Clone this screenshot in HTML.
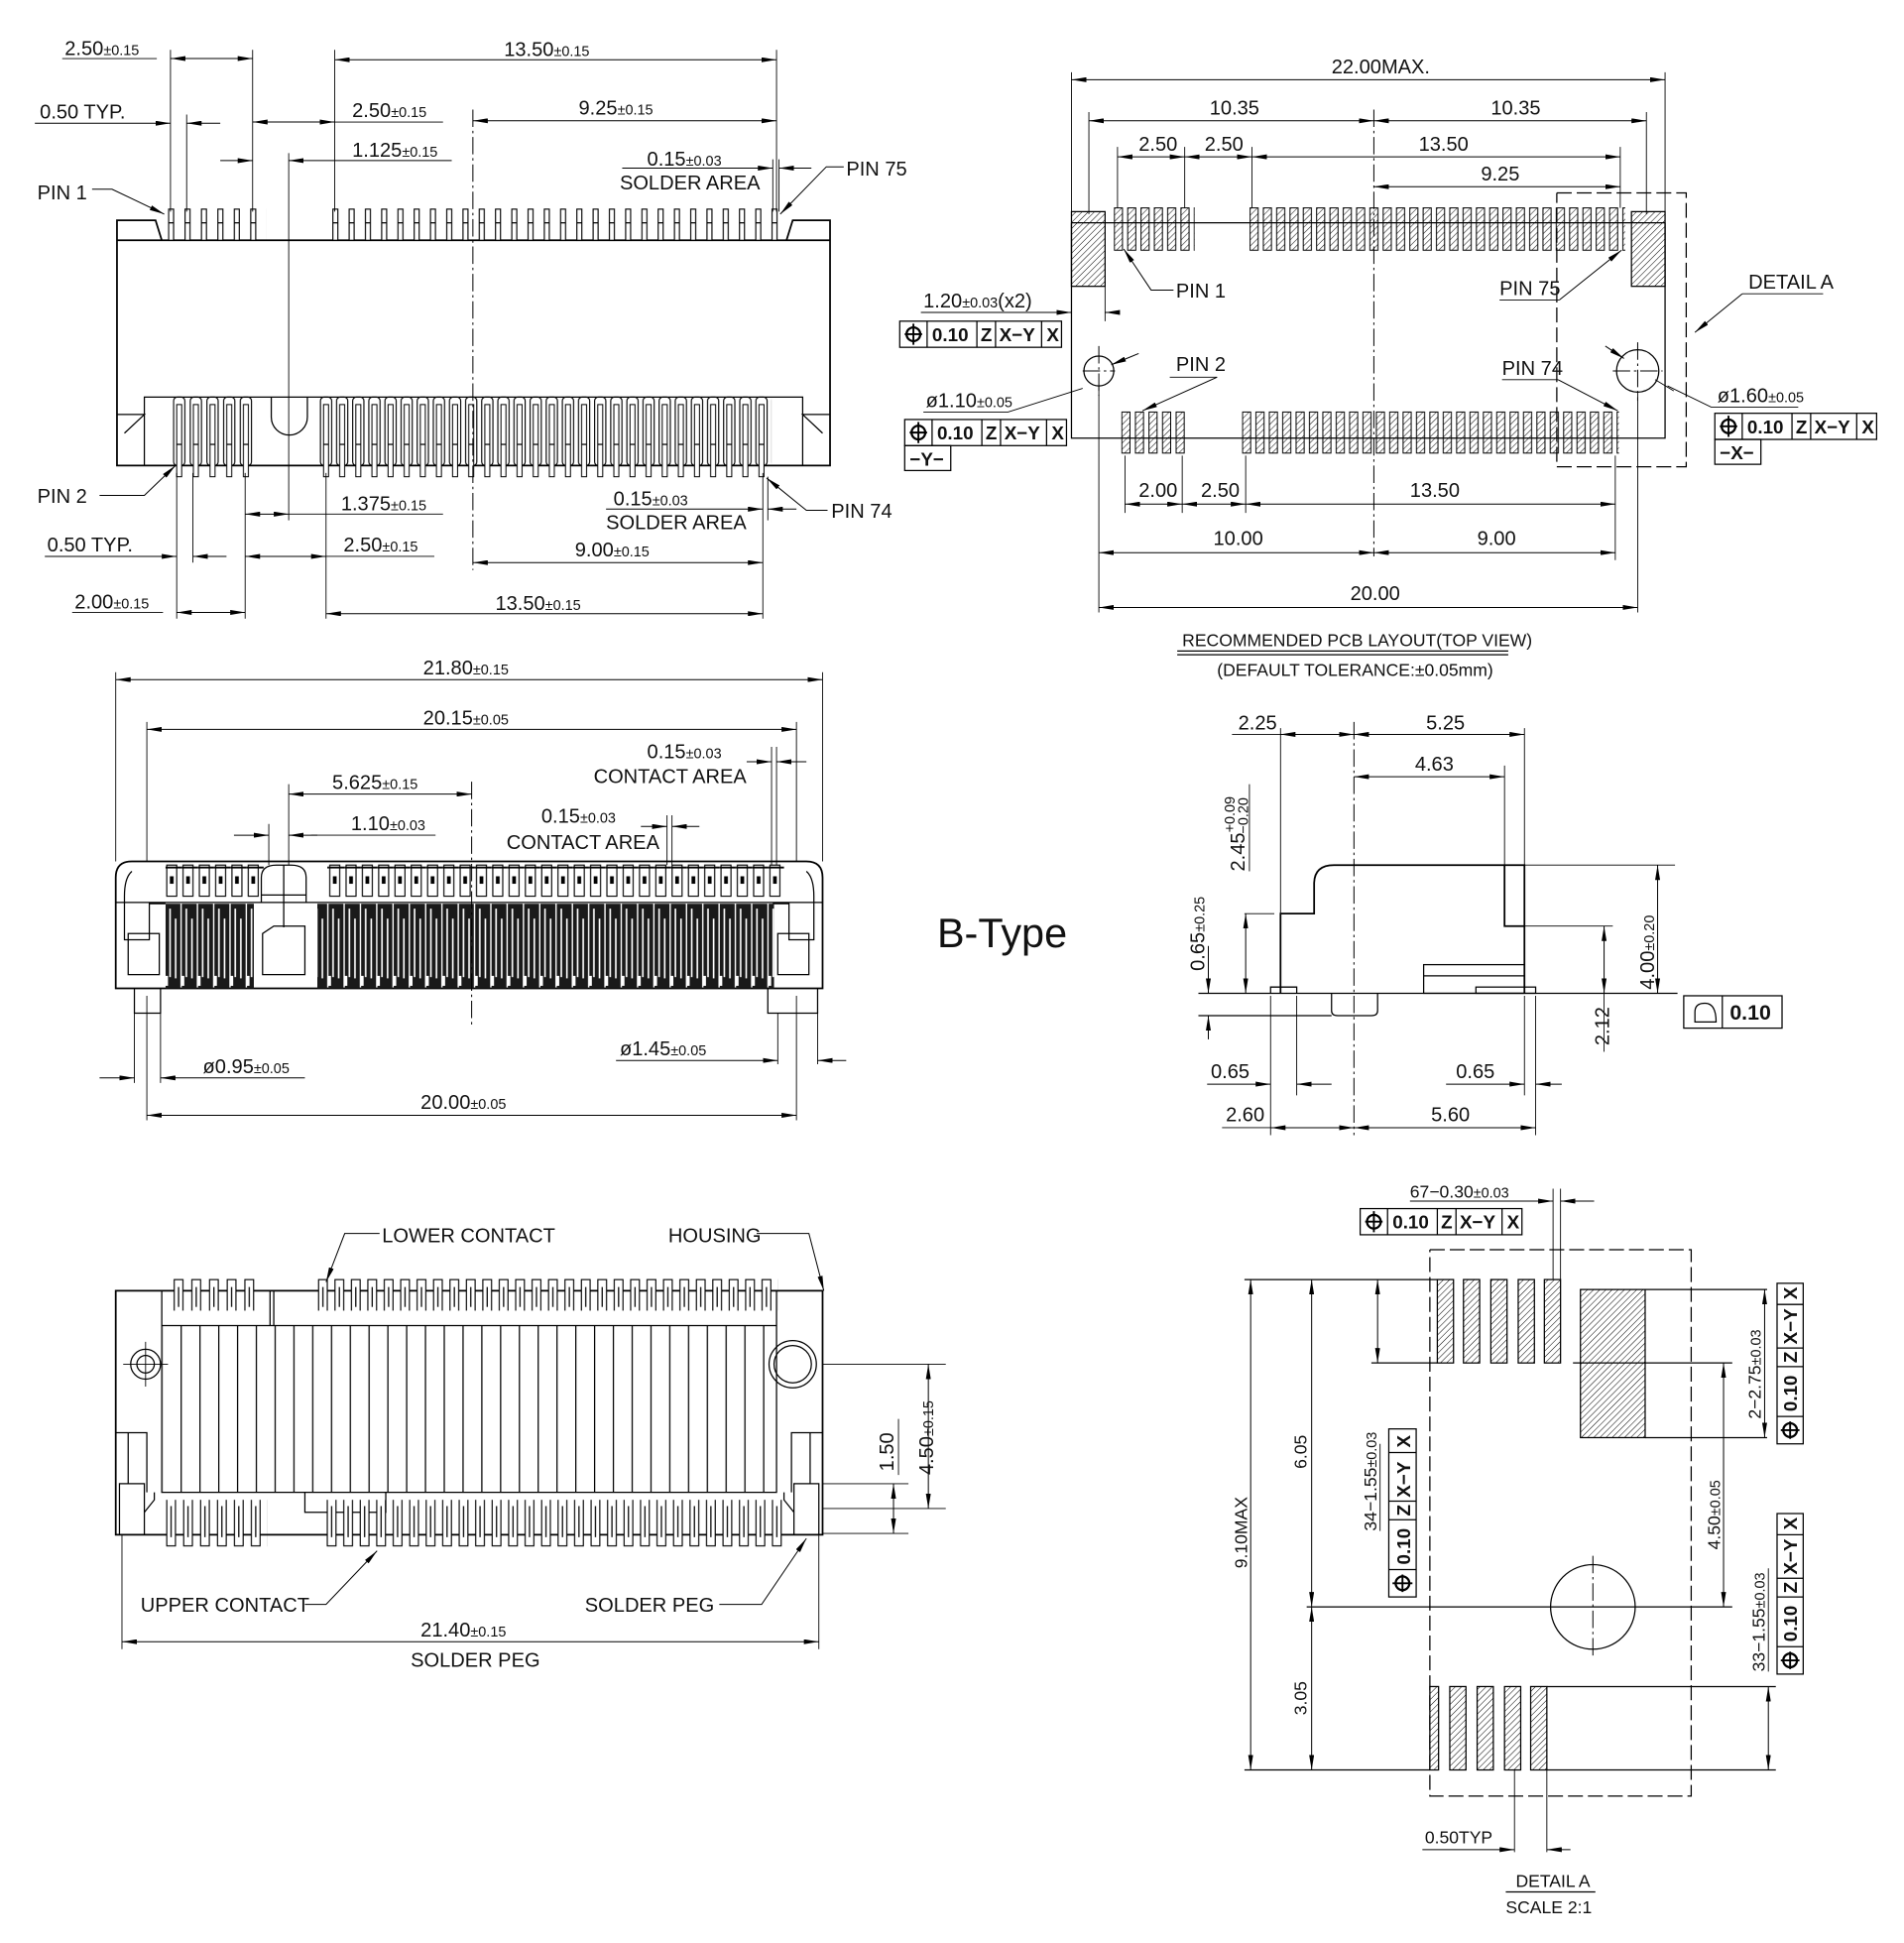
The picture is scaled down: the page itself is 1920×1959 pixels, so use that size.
<!DOCTYPE html>
<html><head><meta charset="utf-8"><style>
html,body{margin:0;padding:0;background:#fff}
svg{display:block}
.l{stroke:#000;stroke-width:1;fill:none}
.b{stroke:#000;stroke-width:1.4;fill:none}
.c{stroke:#000;stroke-width:0.8;fill:none;stroke-dasharray:14 3 2 3}
.dd{stroke:#000;stroke-width:1;fill:none;stroke-dasharray:12 4}
.dm{stroke:#000;stroke-width:0.8;fill:none;marker-start:url(#a);marker-end:url(#a)}
.ar{stroke:#000;stroke-width:0.8;fill:none;marker-end:url(#a)}
.e{stroke:#000;stroke-width:0.7;fill:none}
text{font-family:"Liberation Sans Narrow","Liberation Sans",sans-serif;font-size:16px;fill:#111}
.s{font-size:11.5px}
.fb{font-weight:bold;font-size:15px}
</style></head><body>
<svg width="1920" height="1959" viewBox="0 0 1530 1561" xmlns="http://www.w3.org/2000/svg">
<defs>
<marker id="a" viewBox="0 0 12 4" refX="12" refY="2" markerWidth="12" markerHeight="4" orient="auto-start-reverse" markerUnits="userSpaceOnUse"><path d="M0,0L12,2L0,4z" fill="#000"/></marker>
<pattern id="h" width="3.5" height="3.5" patternUnits="userSpaceOnUse" patternTransform="rotate(45)"><line x1="0" y1="0" x2="0" y2="3.5" stroke="#000" stroke-width="0.8"/></pattern>
<!-- view1 top pins -->
<pattern id="p1a" x="135" y="0" width="13.2" height="2000" patternUnits="userSpaceOnUse"><rect x="0.5" y="168" width="4" height="25" fill="#fff" stroke="#000" stroke-width="0.9"/><line x1="0.5" y1="179" x2="4.5" y2="179" stroke="#000"/></pattern>
<pattern id="p1b" x="267" y="0" width="13.07" height="2000" patternUnits="userSpaceOnUse"><rect x="0.5" y="168" width="4" height="25" fill="#fff" stroke="#000" stroke-width="0.9"/><line x1="0.5" y1="179" x2="4.5" y2="179" stroke="#000"/></pattern>
<pattern id="s1a" x="139" y="0" width="13.4" height="2000" patternUnits="userSpaceOnUse"><rect x="0.5" y="319" width="9" height="55" rx="3" fill="none" stroke="#000" stroke-width="0.9"/><rect x="3" y="325" width="4" height="58" fill="#fff" stroke="#000" stroke-width="0.8"/><line x1="3" y1="357" x2="7" y2="357" stroke="#000"/></pattern>
<pattern id="s1b" x="257" y="0" width="12.96" height="2000" patternUnits="userSpaceOnUse"><rect x="0.5" y="319" width="9" height="55" rx="3" fill="none" stroke="#000" stroke-width="0.9"/><rect x="3" y="325" width="4" height="58" fill="#fff" stroke="#000" stroke-width="0.8"/><line x1="3" y1="357" x2="7" y2="357" stroke="#000"/></pattern>
<!-- pcb pads -->
<pattern id="pa" x="895" y="0" width="10.7" height="2000" patternUnits="userSpaceOnUse"><rect x="0.5" y="167" width="6.5" height="34" fill="url(#h)" stroke="#000" stroke-width="0.8"/></pattern>
<pattern id="pb" x="1004" y="0" width="10.7" height="2000" patternUnits="userSpaceOnUse"><rect x="0.5" y="167" width="6.5" height="34" fill="url(#h)" stroke="#000" stroke-width="0.8"/></pattern>
<pattern id="pc" x="901" y="0" width="10.9" height="2000" patternUnits="userSpaceOnUse"><rect x="0.5" y="331" width="6.5" height="33" fill="url(#h)" stroke="#000" stroke-width="0.8"/></pattern>
<pattern id="pd" x="998" y="0" width="10.75" height="2000" patternUnits="userSpaceOnUse"><rect x="0.5" y="331" width="6.5" height="33" fill="url(#h)" stroke="#000" stroke-width="0.8"/></pattern>
<!-- front view -->
<pattern id="ft" x="133" y="0" width="13.1" height="2000" patternUnits="userSpaceOnUse"><rect x="1" y="695" width="8" height="25" fill="#fff" stroke="#000" stroke-width="0.9"/><rect x="3.5" y="704" width="3" height="6" fill="#000"/><line x1="0" y1="697" x2="13" y2="697" stroke="#000" stroke-width="1.5"/></pattern>
<pattern id="fd" x="133" y="0" width="13.1" height="2000" patternUnits="userSpaceOnUse"><rect x="0" y="726" width="12" height="68" fill="#1a1a1a"/><rect x="3" y="730" width="1.3" height="55" fill="#fff"/><rect x="7.5" y="738" width="1.3" height="48" fill="#fff"/><rect x="0" y="784" width="2" height="8" fill="#fff"/></pattern>
<!-- bottom view -->
<pattern id="bt" x="139" y="0" width="14.2" height="2000" patternUnits="userSpaceOnUse"><path d="M1,1053V1028h7v25" fill="#fff" stroke="#000" stroke-width="0.9"/><line x1="4.5" y1="1034" x2="4.5" y2="1050" stroke="#000"/></pattern>
<pattern id="bt2" x="255" y="0" width="13.2" height="2000" patternUnits="userSpaceOnUse"><path d="M1,1053V1028h7v25" fill="#fff" stroke="#000" stroke-width="0.9"/><line x1="4.5" y1="1034" x2="4.5" y2="1050" stroke="#000"/></pattern>
<pattern id="bb" x="133" y="0" width="13.6" height="2000" patternUnits="userSpaceOnUse"><path d="M1,1205V1242h7V1205" fill="#fff" stroke="#000" stroke-width="0.9"/><line x1="4.5" y1="1210" x2="4.5" y2="1235" stroke="#000"/></pattern>
<pattern id="bb2" x="262" y="0" width="13.25" height="2000" patternUnits="userSpaceOnUse"><path d="M1,1205V1242h7V1205" fill="#fff" stroke="#000" stroke-width="0.9"/><line x1="4.5" y1="1210" x2="4.5" y2="1235" stroke="#000"/></pattern>
<pattern id="bl" x="130" y="0" width="15.1" height="2000" patternUnits="userSpaceOnUse"><line x1="0.5" y1="1065" x2="0.5" y2="1199" stroke="#000" stroke-width="1"/></pattern>
</defs>

<!-- ================= VIEW 1 (top-left) ================= -->
<path class="b" d="M94,193V374H667V193H94M94,193V177H125L130,193M667,193V177H637L632,193"/>
<rect class="l" x="116" y="319" width="529" height="55"/>
<path class="l" d="M94,333H116L100,348M667,333H645L661,348"/>
<path class="l" d="M218,319V335A14.5,14.5 0 0 0 247,335V319"/>
<rect x="135" y="165" width="79" height="30" fill="url(#p1a)"/>
<rect x="265" y="165" width="366" height="30" fill="url(#p1b)"/>
<rect x="139" y="316" width="67" height="70" fill="url(#s1a)"/>
<rect x="257" y="316" width="363" height="70" fill="url(#s1b)"/>
<line class="c" x1="380" y1="88" x2="380" y2="458"/>
<line class="e" x1="232" y1="123" x2="232" y2="418"/>
<!-- ext lines -->
<path class="e" d="M137,40V170M203,40V170M150,92V170M269,40V170M624,40V170M626,128V170M621,128V170M142,380V497M155,380V452M197,380V497M262,380V497M613,380V497M617,383V418"/>
<text x="52" y="44">2.50<tspan class="s">±0.15</tspan></text><line class="e" x1="50" y1="47" x2="126" y2="47"/>
<line class="dm" x1="137" y1="47" x2="203" y2="47"/>
<text x="405" y="45">13.50<tspan class="s">±0.15</tspan></text>
<line class="dm" x1="269" y1="48" x2="624" y2="48"/>
<text x="32" y="95">0.50  TYP.</text>
<line class="ar" x1="28" y1="99" x2="137" y2="99"/><line class="ar" x1="177" y1="99" x2="150" y2="99"/>
<text x="283" y="94">2.50<tspan class="s">±0.15</tspan></text><line class="e" x1="269" y1="98" x2="356" y2="98"/>
<line class="dm" x1="203" y1="98" x2="269" y2="98"/>
<text x="465" y="92">9.25<tspan class="s">±0.15</tspan></text>
<line class="dm" x1="380" y1="97" x2="624" y2="97"/>
<text x="283" y="126">1.125<tspan class="s">±0.15</tspan></text>
<line class="ar" x1="177" y1="129" x2="203" y2="129"/><line class="ar" x1="363" y1="129" x2="232" y2="129"/>
<text x="520" y="133">0.15<tspan class="s">±0.03</tspan></text><text x="498" y="152">SOLDER  AREA</text>
<line class="ar" x1="500" y1="135" x2="621" y2="135"/><line class="ar" x1="652" y1="135" x2="626" y2="135"/>
<text x="680" y="141">PIN  75</text><path class="ar" d="M678,134H664L627,172"/>
<text x="30" y="160">PIN  1</text><path class="ar" d="M74,152H90L132,172"/>
<text x="30" y="404">PIN  2</text><path class="ar" d="M80,398H116L141,374"/>
<text x="668" y="416">PIN  74</text><path class="ar" d="M665,410H648L616,384"/>
<text x="274" y="410">1.375<tspan class="s">±0.15</tspan></text><line class="e" x1="232" y1="413" x2="356" y2="413"/>
<line class="dm" x1="197" y1="413" x2="232" y2="413"/>
<text x="493" y="406">0.15<tspan class="s">±0.03</tspan></text><text x="487" y="425">SOLDER  AREA</text>
<line class="ar" x1="487" y1="409" x2="613" y2="409"/><line class="ar" x1="640" y1="409" x2="617" y2="409"/>
<text x="38" y="443">0.50  TYP.</text>
<line class="ar" x1="36" y1="447" x2="142" y2="447"/><line class="ar" x1="182" y1="447" x2="155" y2="447"/>
<text x="276" y="443">2.50<tspan class="s">±0.15</tspan></text><line class="e" x1="262" y1="447" x2="349" y2="447"/>
<line class="dm" x1="197" y1="447" x2="262" y2="447"/>
<text x="462" y="447">9.00<tspan class="s">±0.15</tspan></text>
<line class="dm" x1="380" y1="452" x2="613" y2="452"/>
<text x="60" y="489">2.00<tspan class="s">±0.15</tspan></text><line class="e" x1="58" y1="492" x2="131" y2="492"/>
<line class="dm" x1="142" y1="492" x2="197" y2="492"/>
<text x="398" y="490">13.50<tspan class="s">±0.15</tspan></text>
<line class="dm" x1="262" y1="493" x2="613" y2="493"/>

<!-- ================= VIEW 2 (PCB layout) ================= -->
<path class="l" d="M861,179H1338M861,179V352H1338V179"/>
<rect x="861" y="170" width="27" height="60" fill="url(#h)" stroke="#000"/>
<rect x="1311" y="170" width="27" height="60" fill="url(#h)" stroke="#000"/>
<rect x="895" y="165" width="65" height="38" fill="url(#pa)"/>
<rect x="1004" y="165" width="302" height="38" fill="url(#pb)"/>
<rect x="901" y="329" width="54" height="37" fill="url(#pc)"/>
<rect x="998" y="329" width="303" height="37" fill="url(#pd)"/>
<path class="dd" d="M1251,155H1355V375H1251V155"/>
<circle class="l" cx="883" cy="298" r="12"/><circle class="l" cx="1316" cy="298" r="17"/>
<path class="c" d="M883,278V318M870,298H896M1316,275V322M1296,298H1336"/>
<line class="c" x1="1104" y1="88" x2="1104" y2="447"/>
<path class="e" d="M861,58V175M1338,58V175M875,90V172M1323,90V172M898,118V167M952,118V167M1006,118V167M1302,118V167M904,366V412M950,366V412M1001,366V412M1298,366V450M883,310V492M1316,316V492"/>
<text x="1070" y="59">22.00MAX.</text><line class="dm" x1="861" y1="64" x2="1338" y2="64"/>
<text x="972" y="92">10.35</text><text x="1198" y="92">10.35</text>
<line class="dm" x1="875" y1="97" x2="1104" y2="97"/><line class="dm" x1="1104" y1="97" x2="1323" y2="97"/>
<text x="915" y="121">2.50</text><text x="968" y="121">2.50</text><text x="1140" y="121">13.50</text>
<line class="dm" x1="898" y1="126" x2="952" y2="126"/><line class="dm" x1="952" y1="126" x2="1006" y2="126"/><line class="dm" x1="1006" y1="126" x2="1302" y2="126"/>
<text x="1190" y="145">9.25</text><line class="dm" x1="1104" y1="150" x2="1302" y2="150"/>
<text x="915" y="399">2.00</text><text x="965" y="399">2.50</text><text x="1133" y="399">13.50</text>
<line class="dm" x1="904" y1="405" x2="950" y2="405"/><line class="dm" x1="950" y1="405" x2="1001" y2="405"/><line class="dm" x1="1001" y1="405" x2="1298" y2="405"/>
<text x="975" y="438">10.00</text><text x="1187" y="438">9.00</text>
<line class="dm" x1="883" y1="444" x2="1104" y2="444"/><line class="dm" x1="1104" y1="444" x2="1298" y2="444"/>
<text x="1085" y="482">20.00</text><line class="dm" x1="883" y1="488" x2="1316" y2="488"/>
<text x="945" y="239">PIN  1</text><path class="ar" d="M943,233H925L903,200"/>
<text x="1205" y="237">PIN  75</text><path class="e" d="M1205,241H1253"/><path class="ar" d="M1253,241L1303,201"/>
<text x="945" y="298">PIN  2</text><path class="e" d="M940,303H978"/><path class="ar" d="M978,303L918,330"/>
<text x="1207" y="301">PIN  74</text><path class="e" d="M1207,305H1252"/><path class="ar" d="M1252,305L1300,330"/>
<text x="1405" y="232">DETAIL  A</text><path class="e" d="M1400,236H1465"/><path class="ar" d="M1400,236L1362,267"/>
<text x="742" y="247">1.20<tspan class="s">±0.03</tspan>(x2)</text>
<line class="ar" x1="740" y1="251" x2="861" y2="251"/><line class="ar" x1="896" y1="251" x2="888" y2="251"/>
<path class="e" d="M861,230V258M888,230V258"/>
<g transform="translate(723,258)"><rect class="l" width="130" height="21"/><path class="l" d="M22,0V21M62,0V21M77,0V21M114,0V21"/><circle cx="11" cy="10.5" r="5.5" fill="none" stroke="#000" stroke-width="1.8"/><path d="M11,2V19M4,10.5H18" stroke="#000" stroke-width="1.5"/><text class="fb" x="26" y="16">0.10</text><text class="fb" x="65" y="16">Z</text><text class="fb" x="80" y="16">X−Y</text><text class="fb" x="118" y="16">X</text></g>
<text x="744" y="327">ø1.10<tspan class="s">±0.05</tspan></text><path class="e" d="M742,331H810L870,312"/><line class="ar" x1="915" y1="284" x2="893" y2="293"/>
<g transform="translate(727,337)"><rect class="l" width="130" height="21"/><path class="l" d="M22,0V21M62,0V21M77,0V21M114,0V21"/><circle cx="11" cy="10.5" r="5.5" fill="none" stroke="#000" stroke-width="1.8"/><path d="M11,2V19M4,10.5H18" stroke="#000" stroke-width="1.5"/><text class="fb" x="26" y="16">0.10</text><text class="fb" x="65" y="16">Z</text><text class="fb" x="80" y="16">X−Y</text><text class="fb" x="118" y="16">X</text></g>
<rect class="l" x="727" y="358" width="37" height="20"/><text class="fb" x="731" y="374">−Y−</text>
<text x="1380" y="323">ø1.60<tspan class="s">±0.05</tspan></text><path class="e" d="M1445,327H1375L1340,310"/><line class="ar" x1="1290" y1="278" x2="1305" y2="288"/><line class="e" x1="1330" y1="305" x2="1345" y2="314"/>
<g transform="translate(1378,332)"><rect class="l" width="130" height="21"/><path class="l" d="M22,0V21M62,0V21M77,0V21M114,0V21"/><circle cx="11" cy="10.5" r="5.5" fill="none" stroke="#000" stroke-width="1.8"/><path d="M11,2V19M4,10.5H18" stroke="#000" stroke-width="1.5"/><text class="fb" x="26" y="16">0.10</text><text class="fb" x="65" y="16">Z</text><text class="fb" x="80" y="16">X−Y</text><text class="fb" x="118" y="16">X</text></g>
<rect class="l" x="1378" y="353" width="37" height="20"/><text class="fb" x="1382" y="369">−X−</text>
<text x="950" y="519" style="font-size:14px">RECOMMENDED  PCB  LAYOUT(TOP  VIEW)</text>
<path class="l" d="M946,523H1212M946,526H1212"/>
<text x="978" y="543" style="font-size:14px">(DEFAULT  TOLERANCE:±0.05mm)</text>

<!-- ================= VIEW 3 (front) ================= -->
<path class="b" d="M93,794V705Q93,692 106,692H648Q661,692 661,705V794Z"/>
<path class="l" d="M108,794V814H129V794M617,794V814H657V794"/>
<path class="l" d="M106,700Q100,705 100,720V755H120V726H133M648,700Q654,705 654,720V755H634V726H621"/>
<rect class="l" x="103" y="750" width="25" height="33"/><rect class="l" x="625" y="750" width="25" height="33"/>
<path class="l" d="M210,725V705Q210,695 222,695H234Q246,695 246,705V725M228,695V745M210,719H246"/>
<path class="l" d="M211,783V750L220,744H245V783Z"/>
<line class="l" x1="93" y1="725" x2="661" y2="725"/>
<rect x="133" y="693" width="79" height="30" fill="url(#ft)"/>
<rect x="263" y="693" width="367" height="30" fill="url(#ft)"/>
<rect x="133" y="726" width="71" height="70" fill="url(#fd)"/>
<rect x="255" y="726" width="367" height="70" fill="url(#fd)"/>
<line class="c" x1="379" y1="628" x2="379" y2="825"/>
<path class="e" d="M93,540V692M661,540V692M118,580V692M640,580V692M620,600V695M624,600V695M232,630V695M216,662V695M536,655V695M540,655V695M108,814V870M129,814V870M118,800V900M640,800V900M625,814V855M657,814V855"/>
<text x="340" y="542">21.80<tspan class="s">±0.15</tspan></text><line class="dm" x1="93" y1="546" x2="661" y2="546"/>
<text x="340" y="582">20.15<tspan class="s">±0.05</tspan></text><line class="dm" x1="118" y1="586" x2="640" y2="586"/>
<text x="520" y="609">0.15<tspan class="s">±0.03</tspan></text><text x="477" y="629">CONTACT  AREA</text>
<line class="ar" x1="600" y1="612" x2="620" y2="612"/><line class="ar" x1="648" y1="612" x2="624" y2="612"/>
<text x="267" y="634">5.625<tspan class="s">±0.15</tspan></text><line class="dm" x1="232" y1="638" x2="379" y2="638"/>
<text x="282" y="667">1.10<tspan class="s">±0.03</tspan></text><line class="e" x1="250" y1="671" x2="350" y2="671"/>
<line class="ar" x1="188" y1="671" x2="216" y2="671"/><line class="ar" x1="255" y1="671" x2="232" y2="671"/>
<text x="435" y="661">0.15<tspan class="s">±0.03</tspan></text><text x="407" y="682">CONTACT  AREA</text>
<line class="ar" x1="515" y1="664" x2="536" y2="664"/><line class="ar" x1="562" y1="664" x2="540" y2="664"/>
<text x="163" y="862">ø0.95<tspan class="s">±0.05</tspan></text>
<line class="ar" x1="80" y1="866" x2="108" y2="866"/><line class="ar" x1="245" y1="866" x2="129" y2="866"/>
<text x="498" y="848">ø1.45<tspan class="s">±0.05</tspan></text>
<line class="ar" x1="495" y1="852" x2="625" y2="852"/><line class="ar" x1="680" y1="852" x2="657" y2="852"/>
<text x="338" y="891">20.00<tspan class="s">±0.05</tspan></text><line class="dm" x1="118" y1="896" x2="640" y2="896"/>

<text x="753" y="761" style="font-family:'Liberation Sans',sans-serif;font-size:33px">B-Type</text>

<!-- ================= VIEW 4 (side) ================= -->
<path class="b" d="M1029,798V734H1056V710Q1056,695 1072,695H1225V798M1209,695V744H1225"/>
<path class="l" d="M1021,798V793H1042V798M1070,798V812Q1070,816 1075,816H1102Q1107,816 1107,812V798"/>
<rect class="l" x="1144" y="775" width="81" height="23"/><line class="l" x1="1144" y1="784" x2="1225" y2="784"/>
<rect class="l" x="1186" y="793" width="48" height="5"/>
<line class="l" x1="963" y1="798" x2="1348" y2="798"/>
<line class="l" x1="963" y1="816" x2="1070" y2="816"/>
<path class="l" d="M1029,745V750M1029,760V765"/>
<line class="c" x1="1088" y1="580" x2="1088" y2="912"/>
<path class="e" d="M1029,585V734M1225,585V798M1209,615V695M1225,695H1346M1225,744H1296M1000,734H1024M1021,800V912M1042,800V880M1225,800V880M1234,800V912"/>
<text x="995" y="586">2.25</text><line class="e" x1="990" y1="590" x2="1029" y2="590"/>
<line class="dm" x1="1029" y1="590" x2="1088" y2="590"/>
<text x="1146" y="586">5.25</text><line class="dm" x1="1088" y1="590" x2="1225" y2="590"/>
<text x="1137" y="619">4.63</text><line class="dm" x1="1088" y1="624" x2="1209" y2="624"/>
<line class="dm" x1="1001" y1="734" x2="1001" y2="798"/>
<text transform="translate(1000,700) rotate(-90)">2.45<tspan class="s" dy="-8">+0.09</tspan><tspan class="s" dx="-30" dy="11">−0.20</tspan></text>
<line class="e" x1="1004" y1="630" x2="1004" y2="700"/>
<line class="ar" x1="971" y1="760" x2="971" y2="798"/><line class="ar" x1="971" y1="835" x2="971" y2="816"/>
<text transform="translate(968,780) rotate(-90)">0.65<tspan class="s">±0.25</tspan></text>
<line class="dm" x1="1332" y1="695" x2="1332" y2="798"/>
<text transform="translate(1329,795) rotate(-90)">4.00<tspan class="s">±0.20</tspan></text>
<line class="dm" x1="1289" y1="744" x2="1289" y2="798"/><line class="e" x1="1289" y1="798" x2="1289" y2="845"/>
<text transform="translate(1293,840) rotate(-90)">2.12</text>
<rect class="l" x="1353" y="800" width="79" height="26"/><line class="l" x1="1384" y1="800" x2="1384" y2="826"/>
<path class="l" d="M1362,821H1379Q1379,806 1370,806Q1362,806 1362,813Z" stroke-width="1.5"/>
<text class="fb" x="1390" y="819" style="font-size:17px">0.10</text>
<text x="973" y="866">0.65</text>
<line class="ar" x1="970" y1="871" x2="1021" y2="871"/><line class="ar" x1="1070" y1="871" x2="1042" y2="871"/>
<text x="1170" y="866">0.65</text>
<line class="ar" x1="1162" y1="871" x2="1225" y2="871"/><line class="ar" x1="1255" y1="871" x2="1234" y2="871"/>
<text x="985" y="901">2.60</text><line class="e" x1="982" y1="906" x2="1021" y2="906"/>
<line class="dm" x1="1021" y1="906" x2="1088" y2="906"/>
<text x="1150" y="901">5.60</text><line class="dm" x1="1088" y1="906" x2="1234" y2="906"/>

<!-- ================= VIEW 5 (bottom-left) ================= -->
<path class="b" d="M93,1037H661V1233H93Z"/>
<path class="l" d="M130,1037V1065H624V1037M130,1065V1199H624V1065"/>
<path class="l" d="M93,1151H118V1199M661,1151H636V1199"/>
<rect class="l" x="96" y="1192" width="20" height="41"/><rect class="l" x="638" y="1192" width="20" height="41"/>
<path class="l" d="M103,1151V1192M651,1151V1192"/>
<path class="l" d="M116,1215L124,1205V1199M638,1215L630,1205V1199M93,1233H128M626,1233H661"/>
<path class="l" d="M217,1037V1065M220,1037V1065M245,1199V1215H310V1199M310,1215V1205"/>
<rect x="139" y="1025" width="71" height="30" fill="url(#bt)"/>
<rect x="255" y="1025" width="370" height="30" fill="url(#bt2)"/>
<rect x="131" y="1065" width="492" height="134" fill="url(#bl)"/>
<rect x="133" y="1202" width="82" height="42" fill="url(#bb)"/>
<rect x="262" y="1202" width="371" height="42" fill="url(#bb2)"/>
<circle class="l" cx="117" cy="1096" r="12"/><circle class="l" cx="117" cy="1096" r="7"/>
<path class="e" d="M117,1078V1114M99,1096H135"/>
<circle class="l" cx="637" cy="1096" r="19"/><circle class="l" cx="637" cy="1096" r="15"/>
<path class="e" d="M661,1096H760M661,1192H730M661,1212H760M661,1232H730"/>
<text x="307" y="998">LOWER  CONTACT</text><path class="ar" d="M305,991H277L262,1030"/>
<text x="537" y="998">HOUSING</text><path class="ar" d="M608,991H650L662,1037"/>
<text x="113" y="1295">UPPER  CONTACT</text><path class="ar" d="M245,1289H262L303,1246"/>
<text x="470" y="1295">SOLDER  PEG</text><path class="ar" d="M578,1289H612L648,1236"/>
<path class="e" d="M98,1233V1325M658,1233V1325"/>
<text x="338" y="1315">21.40<tspan class="s">±0.15</tspan></text><line class="dm" x1="98" y1="1319" x2="658" y2="1319"/>
<text x="330" y="1339">SOLDER  PEG</text>
<line class="dm" x1="746" y1="1096" x2="746" y2="1212"/>
<text transform="translate(750,1185) rotate(-90)">4.50<tspan class="s">±0.15</tspan></text>
<line class="dm" x1="718" y1="1192" x2="718" y2="1232"/><line class="e" x1="722" y1="1140" x2="722" y2="1185"/>
<text transform="translate(718,1182) rotate(-90)">1.50</text>

<!-- ================= VIEW 6 (detail A) ================= -->
<path class="dd" d="M1149,1004H1359V1443H1149V1004"/>
<rect x="1155" y="1028" width="13" height="67" fill="url(#h)" stroke="#000"/>
<rect x="1176" y="1028" width="13" height="67" fill="url(#h)" stroke="#000"/>
<rect x="1198" y="1028" width="13" height="67" fill="url(#h)" stroke="#000"/>
<rect x="1220" y="1028" width="13" height="67" fill="url(#h)" stroke="#000"/>
<rect x="1241" y="1028" width="13" height="67" fill="url(#h)" stroke="#000"/>
<rect x="1270" y="1036" width="52" height="119" fill="url(#h)" stroke="#000"/>
<rect x="1149" y="1355" width="7" height="67" fill="url(#h)" stroke="#000"/>
<rect x="1165" y="1355" width="13" height="67" fill="url(#h)" stroke="#000"/>
<rect x="1187" y="1355" width="13" height="67" fill="url(#h)" stroke="#000"/>
<rect x="1209" y="1355" width="13" height="67" fill="url(#h)" stroke="#000"/>
<rect x="1230" y="1355" width="13" height="67" fill="url(#h)" stroke="#000"/>
<circle class="l" cx="1280" cy="1291" r="34"/>
<path class="c" d="M1280,1250V1333"/>
<path class="l" d="M1000,1028H1155M1102,1095H1155M1264,1095H1392M1050,1291H1392M1000,1422H1149M1243,1422H1427M1243,1355H1427M1322,1036H1420M1322,1155H1420"/>
<line class="dm" x1="1005" y1="1028" x2="1005" y2="1422"/>
<text transform="translate(1002,1260) rotate(-90)" style="font-size:14px">9.10MAX</text>
<line class="dm" x1="1054" y1="1028" x2="1054" y2="1291"/>
<text transform="translate(1050,1180) rotate(-90)" style="font-size:14px">6.05</text>
<line class="dm" x1="1054" y1="1291" x2="1054" y2="1422"/>
<text transform="translate(1050,1378) rotate(-90)" style="font-size:14px">3.05</text>
<line class="dm" x1="1107" y1="1028" x2="1107" y2="1095"/>
<text transform="translate(1106,1230) rotate(-90)" style="font-size:14px">34−1.55<tspan class="s">±0.03</tspan></text>
<line class="e" x1="1109" y1="1160" x2="1109" y2="1230"/>
<g transform="translate(1116,1283) rotate(-90)"><rect class="l" width="135" height="22"/><path class="l" d="M22,0V22M62,0V22M77,0V22M116,0V22"/><circle cx="11" cy="11" r="5.5" fill="none" stroke="#000" stroke-width="1.8"/><path d="M11,3V19M4,11H18" stroke="#000" stroke-width="1.5"/><text class="fb" x="26" y="17">0.10</text><text class="fb" x="65" y="17">Z</text><text class="fb" x="80" y="17">X−Y</text><text class="fb" x="120" y="17">X</text></g>
<line class="dm" x1="1418" y1="1036" x2="1418" y2="1155"/>
<text transform="translate(1415,1140) rotate(-90)" style="font-size:14px">2−2.75<tspan class="s">±0.03</tspan></text>
<g transform="translate(1428,1160) rotate(-90)"><rect class="l" width="129" height="21"/><path class="l" d="M22,0V21M62,0V21M77,0V21M112,0V21"/><circle cx="11" cy="10.5" r="5.5" fill="none" stroke="#000" stroke-width="1.8"/><path d="M11,3V18M4,10.5H18" stroke="#000" stroke-width="1.5"/><text class="fb" x="26" y="16">0.10</text><text class="fb" x="65" y="16">Z</text><text class="fb" x="80" y="16">X−Y</text><text class="fb" x="116" y="16">X</text></g>
<line class="dm" x1="1385" y1="1095" x2="1385" y2="1291"/>
<text transform="translate(1382,1245) rotate(-90)" style="font-size:14px">4.50<tspan class="s">±0.05</tspan></text>
<line class="dm" x1="1421" y1="1355" x2="1421" y2="1422"/>
<text transform="translate(1418,1343) rotate(-90)" style="font-size:14px">33−1.55<tspan class="s">±0.03</tspan></text>
<line class="e" x1="1421" y1="1260" x2="1421" y2="1343"/>
<g transform="translate(1428,1345) rotate(-90)"><rect class="l" width="129" height="21"/><path class="l" d="M22,0V21M62,0V21M77,0V21M112,0V21"/><circle cx="11" cy="10.5" r="5.5" fill="none" stroke="#000" stroke-width="1.8"/><path d="M11,3V18M4,10.5H18" stroke="#000" stroke-width="1.5"/><text class="fb" x="26" y="16">0.10</text><text class="fb" x="65" y="16">Z</text><text class="fb" x="80" y="16">X−Y</text><text class="fb" x="116" y="16">X</text></g>
<text x="1133" y="962" style="font-size:14px">67−0.30<tspan class="s">±0.03</tspan></text>
<line class="ar" x1="1133" y1="965" x2="1248" y2="965"/><line class="ar" x1="1281" y1="965" x2="1254" y2="965"/>
<path class="e" d="M1248,955V1028M1254,955V1028"/>
<g transform="translate(1093,971)"><rect class="l" width="130" height="21"/><path class="l" d="M22,0V21M62,0V21M77,0V21M114,0V21"/><circle cx="11" cy="10.5" r="5.5" fill="none" stroke="#000" stroke-width="1.8"/><path d="M11,2V19M4,10.5H18" stroke="#000" stroke-width="1.5"/><text class="fb" x="26" y="16">0.10</text><text class="fb" x="65" y="16">Z</text><text class="fb" x="80" y="16">X−Y</text><text class="fb" x="118" y="16">X</text></g>
<path class="e" d="M1217,1422V1488M1243,1422V1488"/>
<text x="1145" y="1481" style="font-size:14px">0.50TYP</text>
<line class="ar" x1="1143" y1="1486" x2="1217" y2="1486"/><line class="ar" x1="1262" y1="1486" x2="1243" y2="1486"/>
<text x="1218" y="1516" style="font-size:14px">DETAIL  A</text>
<line class="l" x1="1210" y1="1520" x2="1282" y2="1520"/>
<text x="1210" y="1537" style="font-size:14px">SCALE  2:1</text>
</svg>
</body></html>
